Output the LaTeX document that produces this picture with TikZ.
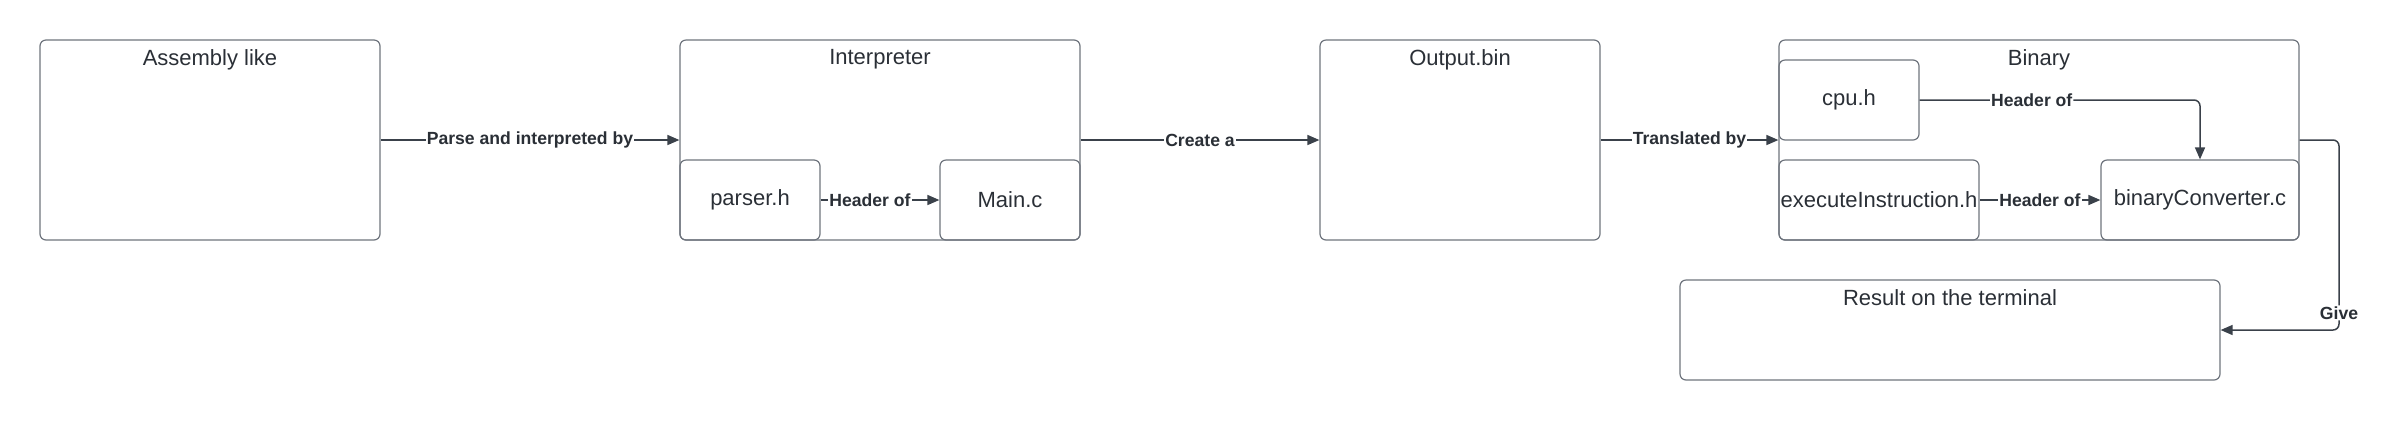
\documentclass[tikz,border=0pt]{standalone}
\usepackage{fontspec}
\setmainfont{Liberation Sans}
\usetikzlibrary{positioning, arrows.meta}
\definecolor{boxline}{HTML}{6E747D}
\definecolor{wire}{HTML}{3A414A}
\definecolor{ink}{HTML}{2A2F36}

\begin{document}
\begin{tikzpicture}[x=0.5pt, y=-0.5pt, >={Triangle[length=6pt, width=5pt]}]
\tikzset{Group/.style={shape=rectangle, draw=boxline, rounded corners=3pt, line width=0.6pt, inner sep=0pt, text=ink, font=\fontsize{11}{13}\selectfont}}
\tikzset{File/.style={Group}}
\tikzset{Title/.style={label={[anchor=north, inner sep=0pt, yshift=-5pt, text=ink, font=\fontsize{11}{13}\selectfont]north:#1}}}
\tikzset{Link/.style={draw=wire, line width=0.75pt}}
\tikzset{Tag/.style={fill=white, inner sep=0.5pt, text=ink, font=\fontsize{8.8}{10}\selectfont\bfseries}}
\useasboundingbox (0,0) rectangle (2400,420);

% nodes
\node[Group, minimum width=170pt, minimum height=100pt, Title={Assembly like}] (asm) at (210, 140) {};
\node[Group, minimum width=200pt, minimum height=100pt, Title={Interpreter}] (interp) at (880, 140) {};
\node[File, minimum width=70pt, minimum height=40pt] (parser) at (750, 200) {parser.h};
\node[File, minimum width=70pt, minimum height=40pt] (mainc) at (1010, 200) {Main.c};

\node[Group, minimum width=140pt, minimum height=100pt, Title={Output.bin}] (out) at (1460, 140) {};
\node[Group, minimum width=260pt, minimum height=100pt, Title={Binary}] (bin) at (2039, 140) {};
\node[File, minimum width=70pt, minimum height=40pt] (cpu) at (1849, 100) {cpu.h};
\node[File, minimum width=100pt, minimum height=40pt] (exec) at (1879, 200) {executeInstruction.h};
\node[File, minimum width=99pt, minimum height=40pt] (conv) at (2200, 200) {binaryConverter.c};

\node[Group, minimum width=270pt, minimum height=50pt, Title={Result on the terminal}] (res) at (1950, 330) {};
\coordinate (turn) at (2339, 140);

% arrows
\draw[Link, ->] (asm) -- node[Tag] {Parse and interpreted by} (interp);
\draw[Link, ->] (parser) -- node[Tag, xshift=-5pt] {Header of} (mainc);
\draw[Link, ->] (interp) -- node[Tag] {Create a} (out);
\draw[Link, ->] (out) -- node[Tag] {Translated by} (bin);
\draw[Link, ->, rounded corners=3pt] (cpu) -| node[Tag, pos=0.2] {Header of} (conv);
\draw[Link, ->] (exec) -- node[Tag] {Header of} (conv);
\draw[Link, ->, rounded corners=3pt] (bin.east) -- (turn) |- node[Tag, pos=0.455] {Give} (res.east);
\end{tikzpicture}
\end{document}
